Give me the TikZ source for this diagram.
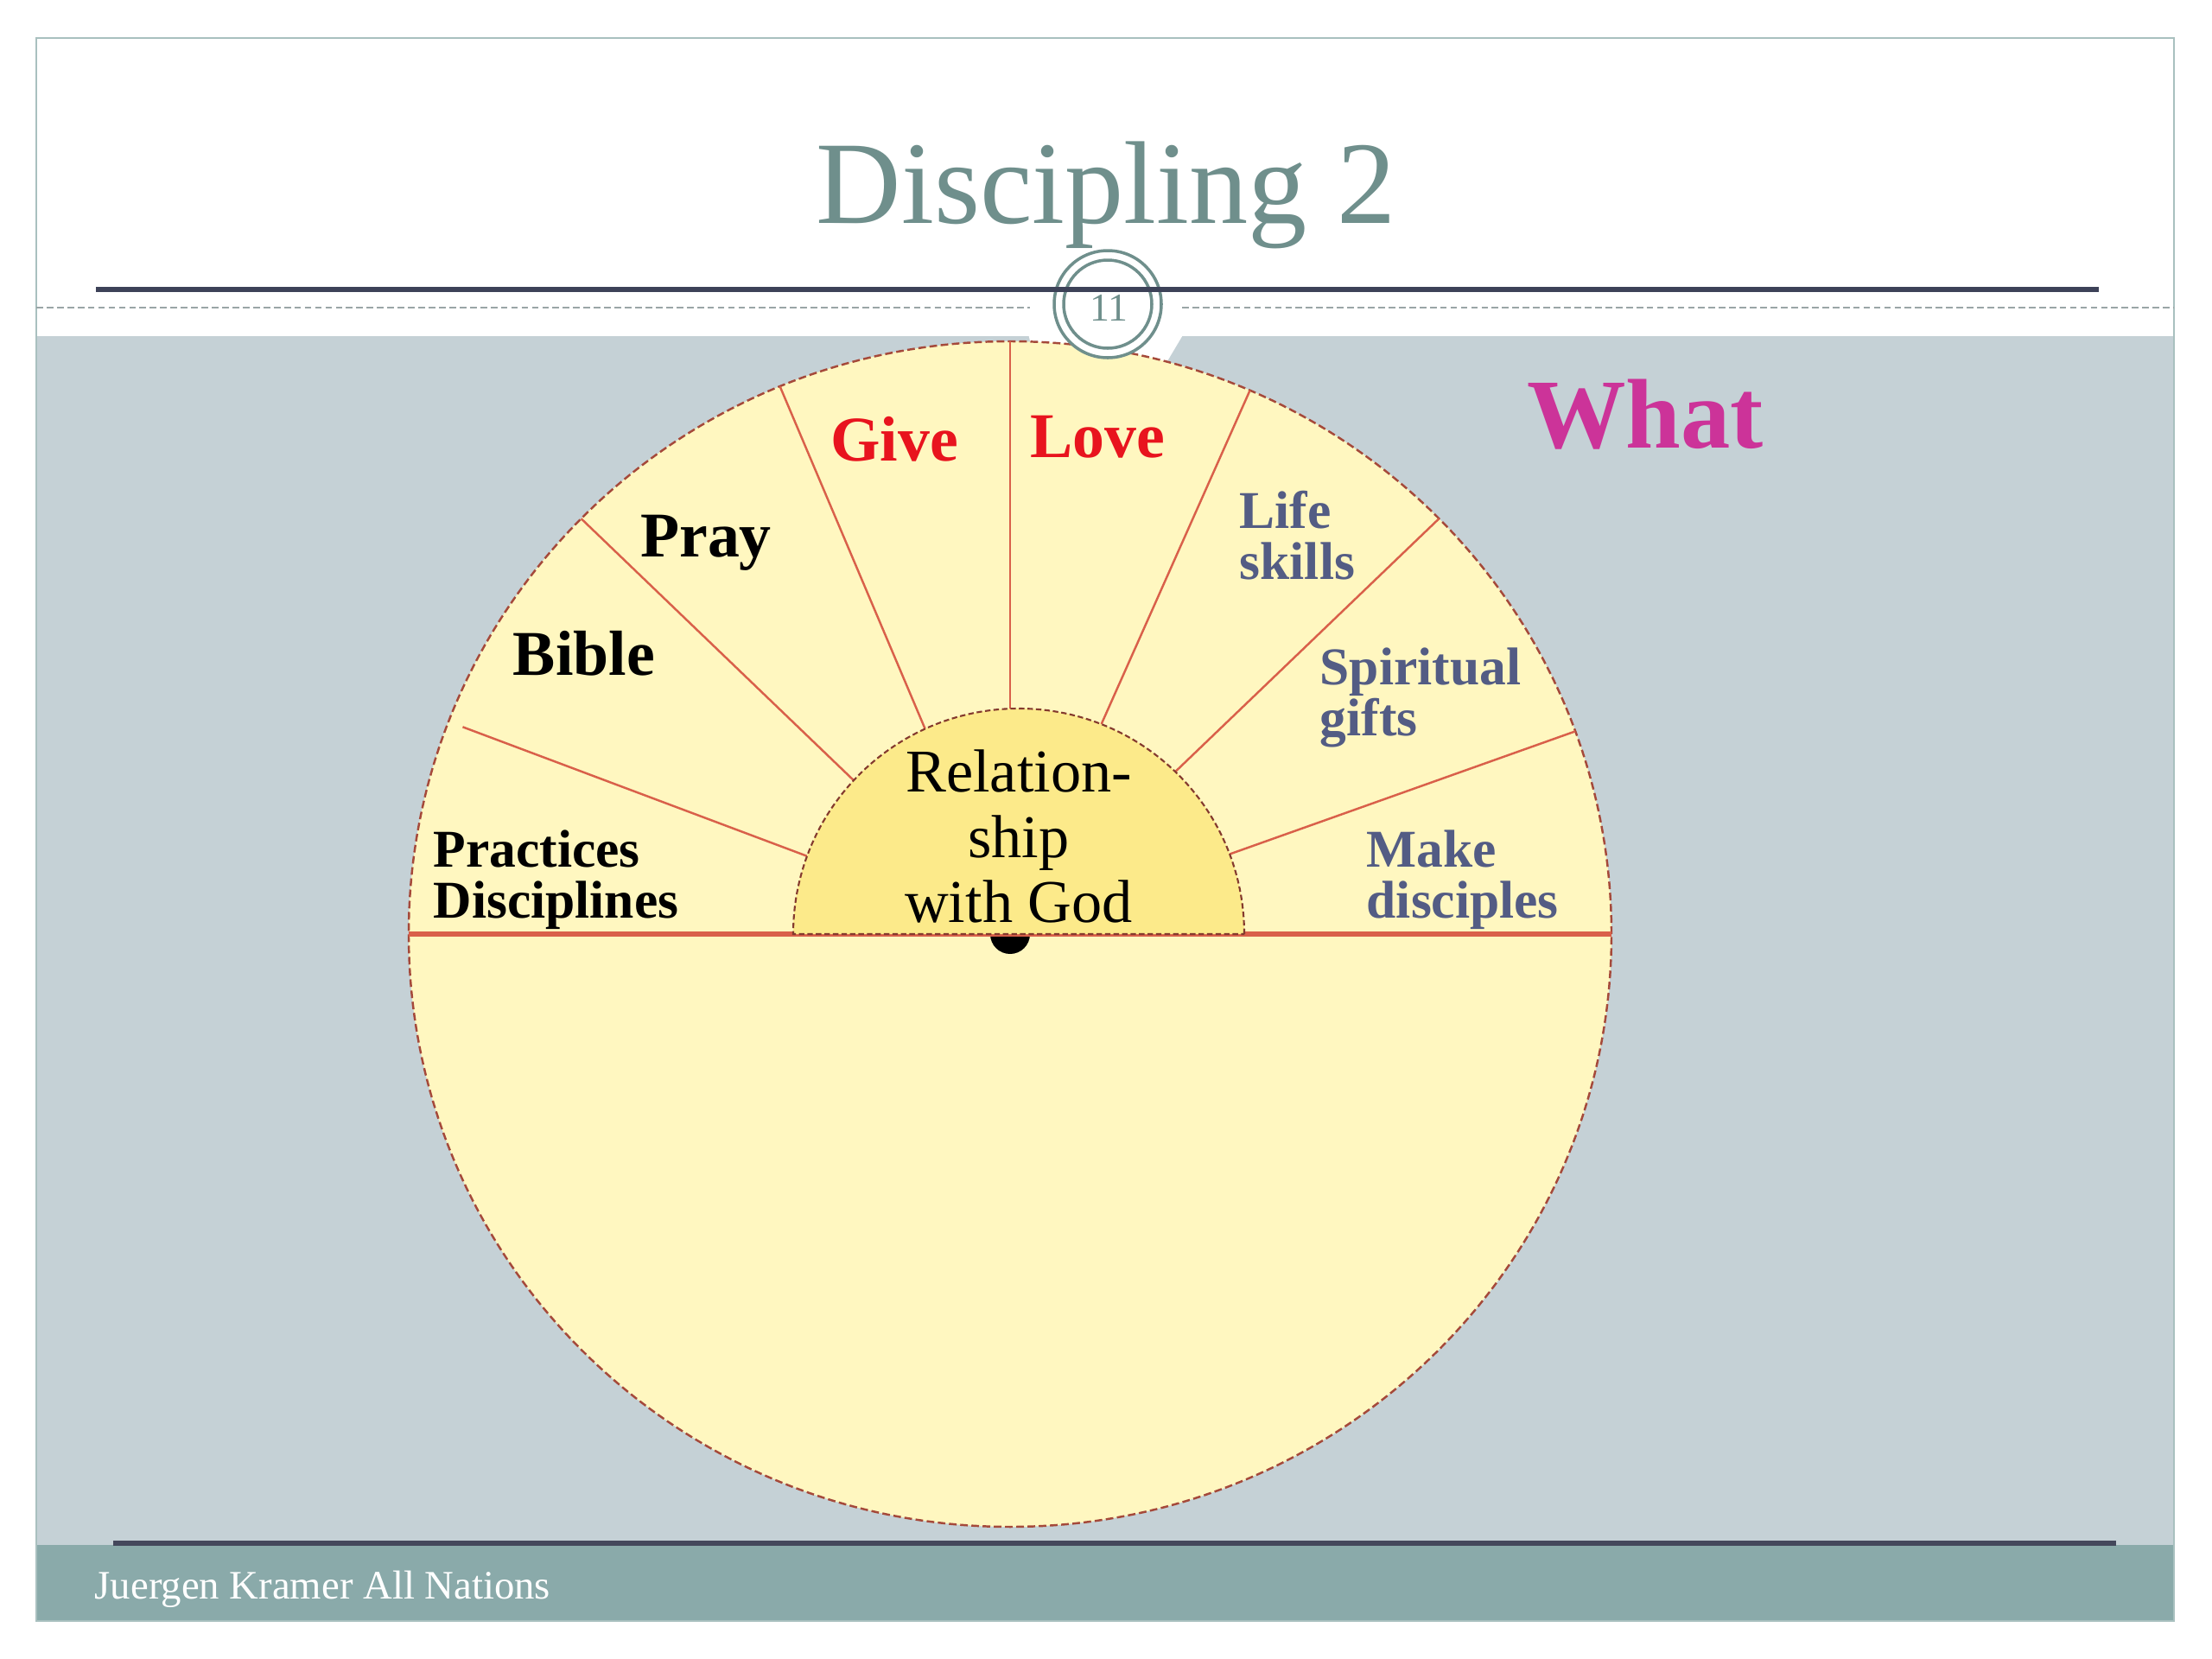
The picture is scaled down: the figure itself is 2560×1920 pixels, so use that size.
\documentclass[tikz,border=0pt]{standalone}
\usepackage{fontspec}
\usetikzlibrary{calc}
\setmainfont{Liberation Serif}
\definecolor{titlegrey}{HTML}{6F8F8C}
\definecolor{slidegrey}{HTML}{C5D1D6}
\definecolor{footteal}{HTML}{8AAAAA}
\definecolor{framecol}{HTML}{A9C0BF}
\definecolor{darkline}{HTML}{3D4258}
\definecolor{dashgrey}{HTML}{9AA5A6}
\definecolor{wheelfill}{HTML}{FFF7C0}
\definecolor{innerfill}{HTML}{FCEA8A}
\definecolor{spokered}{HTML}{D9604A}
\definecolor{rimred}{HTML}{A5493A}
\definecolor{lovered}{HTML}{E8141E}
\definecolor{slate}{HTML}{535C84}
\definecolor{whatpink}{HTML}{CC3399}
\begin{document}
\begin{tikzpicture}[x=0.1mm,y=-0.1mm,
  big/.style={font=\fontsize{21}{23}\selectfont\bfseries,inner sep=0pt},
  small/.style={font=\fontsize{17.5}{16.8}\selectfont\bfseries,align=left,anchor=west,inner sep=0pt}]
\def\cx{1169};
\def\cy{1081};
\def\Rx{696};
\def\Ry{686};
\def\r{261};
\coordinate (O) at (\cx,\cy);
\coordinate (pg) at (1282,352);
\useasboundingbox (0,0) rectangle (2560,1920);
% slide
\fill[white] (0,0) rectangle (2560,1920);
\fill[slidegrey] (42,389) rectangle (2516,1788);
\fill[white] (1190,386) -- (1370,386) -- (1345,428) -- (1200,428) -- cycle;
\fill[footteal] (42,1788) rectangle (2516,1876);
\draw[framecol, line width=0.8pt] (42,44) rectangle (2516,1876);
% wheel
\begin{scope}[shift={(O)},yscale=-1]
\coordinate (I) at (10,0);
\draw[rimred, line width=0.7pt, dash pattern=on 2.5pt off 1.2pt, fill=wheelfill] (0,0) ellipse[x radius=\Rx, y radius=\Ry];
\foreach \a/\f in {20/1,44.5/1,66.5/1,90/1,112.5/1,135.5/1,159/0.975}	\draw[spokered, line width=0.7pt] (\a:{\r+10*cos(\a)}) -- (\a:{\f*\Rx} and {\f*\Ry});
\fill[black] (0,0) circle[radius=23];
\draw[spokered, line width=1.8pt] (-\Rx,0) -- (\Rx,0);
\draw[rimred!80!black, line width=0.6pt, dash pattern=on 1.8pt off 1pt, fill=innerfill] ($(I)+(\r,0)$) arc[start angle=0, end angle=180, radius=\r] -- cycle;
\end{scope}
% page number
\draw[titlegrey, line width=1pt, fill=white] (pg) circle[radius=62];
\draw[titlegrey, line width=1pt] (pg) circle[radius=51];
\draw[darkline, line width=1.7pt] (111,335) -- (2429,335);
\draw[dashgrey, line width=0.6pt, dash pattern=on 2.2pt off 1.2pt] (42,356) -- (1192,356) (1368,356) -- (2516,356);
\draw[darkline!90!gray, line width=1.7pt] (131,1786) -- (2449,1786);
\node[text=titlegrey, font=\fontsize{13}{13}\selectfont] (pagenum) at (1283,356) {11};
% texts
\node[font=\fontsize{38.8}{39}\selectfont, text=titlegrey, anchor=base] (title) at (1280,258) {Discipling 2};
\node[big] (bible) at (676,756) {Bible};
\node[big] (pray) at (817,628) {Pray};
\node[big, text=lovered] (give) at (1035,508) {Give};
\node[big, text=lovered] (love) at (1270,506) {Love};
\node[small] (practices) at (501,1018) {Practices\\Disciplines};
\node[small, text=slate] (life) at (1434,620) {Life\\skills};
\node[small, text=slate] (gifts) at (1527,807) {Spiritual\\gifts};
\node[small, text=slate] (make) at (1581,1018) {Make\\disciples};
\node[font=\fontsize{32.6}{34}\selectfont\bfseries, text=whatpink] (what) at (1904,480) {What};
\node[font=\fontsize{20}{21.6}\selectfont, align=center, inner sep=0pt] (rel) at (1179,968) {Relation-\\ship\\with God};
\node[anchor=base west, text=white, font=\fontsize{13.3}{14}\selectfont, inner sep=0pt] (author) at (109,1850) {Juergen Kramer All Nations};
\end{tikzpicture}
\end{document}
